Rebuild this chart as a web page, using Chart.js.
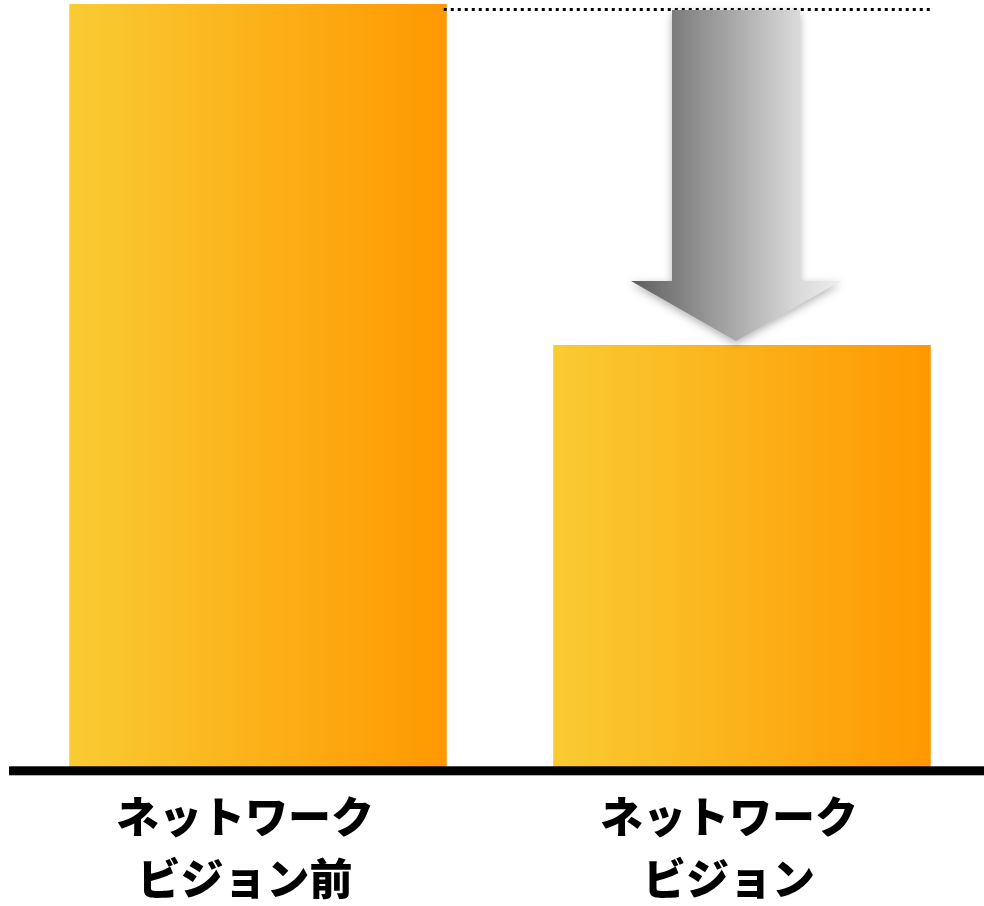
<!DOCTYPE html>
<html>
<head>
<meta charset="utf-8">
<script src="https://cdn.jsdelivr.net/npm/chart.js@4"></script>
<style>
  html, body { margin: 0; padding: 0; background: #fff; }
  #wrap { width: 984px; height: 906px; }
</style>
</head>
<body>
<div id="wrap"><canvas id="chart"></canvas></div>
<script>
const labels = [['ネットワーク', 'ビジョン前'], ['ネットワーク', 'ビジョン']];
const values = [100, 55.5];

// gradient per bar, left yellow -> right orange
function barGradient(ctx) {
  const chart = ctx.chart;
  const x = chart.scales.x;
  if (!x || !chart.chartArea) return '#FBB320';
  const center = x.getPixelForTick(ctx.dataIndex);
  const half = x.width / labels.length * 0.78 / 2;
  const g = chart.ctx.createLinearGradient(center - half, 0, center + half, 0);
  g.addColorStop(0, '#F9CB33');
  g.addColorStop(1, '#FF9800');
  return g;
}

const decor = {
  id: 'decor',
  afterDatasetsDraw(chart) {
    const c = chart.ctx;
    const bars = chart.getDatasetMeta(0).data;
    const b1 = bars[0], b2 = bars[1];
    const area = chart.chartArea;

    // dotted reference line at the first bar's height
    c.save();
    c.strokeStyle = '#000';
    c.lineWidth = 3;
    c.setLineDash([3, 4]);
    c.beginPath();
    c.moveTo(b1.x + b1.width / 2 - 3, Math.round(b1.y) + 5.5);
    c.lineTo(b2.x + b2.width / 2 + 1, Math.round(b1.y) + 5.5);
    c.stroke();
    c.restore();

    // arrow pointing down to the second bar
    const cx = b2.x - 6;
    const top = b1.y + 6;
    const tip = b2.y - 4;
    const shaftHalf = 64, headHalf = 105, headH = 60;
    c.save();
    c.shadowColor = 'rgba(0,0,0,0.3)';
    c.shadowBlur = 8;
    c.shadowOffsetY = 3;
    const g = c.createLinearGradient(cx - headHalf, 0, cx + headHalf, 0);
    g.addColorStop(0, '#5e5e5e');
    g.addColorStop(0.2, '#7c7c7c');
    g.addColorStop(0.8, '#dadada');
    g.addColorStop(1, '#eeeeee');
    c.fillStyle = g;
    c.beginPath();
    c.moveTo(cx - shaftHalf, top);
    c.lineTo(cx + shaftHalf, top);
    c.lineTo(cx + shaftHalf, tip - headH);
    c.lineTo(cx + headHalf, tip - headH);
    c.lineTo(cx, tip);
    c.lineTo(cx - headHalf, tip - headH);
    c.lineTo(cx - shaftHalf, tip - headH);
    c.closePath();
    c.fill();
    c.restore();

    // thick baseline
    c.save();
    c.fillStyle = '#000';
    c.fillRect(area.left - 7, area.bottom - 4, chart.width - area.left + 7, 9);
    c.restore();
  }
};

new Chart(document.getElementById('chart'), {
  type: 'bar',
  data: {
    labels: labels,
    datasets: [{
      data: values,
      backgroundColor: barGradient,
      borderWidth: 0,
      barPercentage: 0.78,
      categoryPercentage: 1
    }]
  },
  options: {
    responsive: true,
    maintainAspectRatio: false,
    animation: false,
    layout: { padding: { left: 16, right: 0, top: 4, bottom: -19 } },
    plugins: { legend: { display: false }, tooltip: { enabled: false } },
    scales: {
      x: {
        grid: { display: false, drawTicks: false },
        border: { display: false },
        ticks: {
          color: '#000',
          padding: 15,
          labelOffset: -13,
          font: { family: '"Noto Sans CJK JP"', size: 43, weight: '900', lineHeight: 1.45 }
        }
      },
      y: {
        display: false,
        min: 0,
        max: 100
      }
    }
  },
  plugins: [decor]
});
</script>
</body>
</html>
